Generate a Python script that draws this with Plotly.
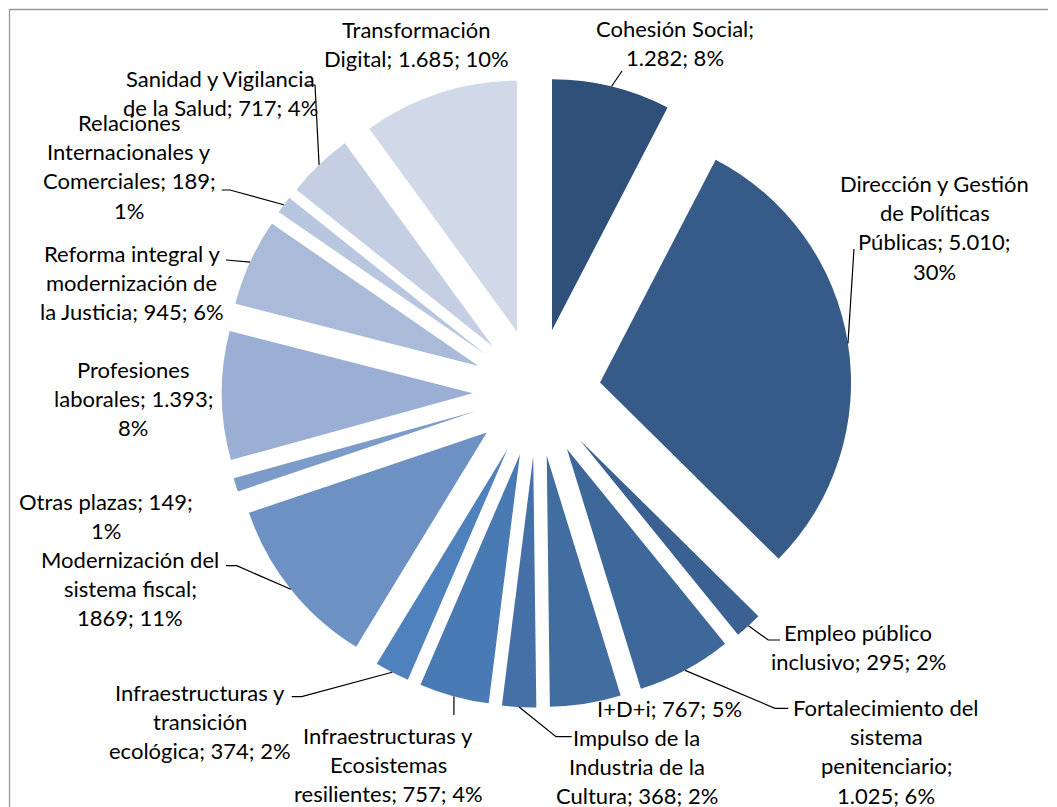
import math
import plotly.graph_objects as go

# ---------------- data ----------------
categories = [
    "Cohesión Social",
    "Dirección y Gestión de Políticas Públicas",
    "Empleo público inclusivo",
    "Fortalecimiento del sistema penitenciario",
    "I+D+i",
    "Impulso de la Industria de la Cultura",
    "Infraestructuras y Ecosistemas resilientes",
    "Infraestructuras y transición ecológica",
    "Modernización del sistema fiscal",
    "Otras plazas",
    "Profesiones laborales",
    "Reforma integral y modernización de la Justicia",
    "Relaciones Internacionales y Comerciales",
    "Sanidad y Vigilancia de la Salud",
    "Transformación Digital",
]
values = [1282, 5010, 295, 1025, 767, 368, 757, 374, 1869, 149, 1393, 945, 189, 717, 1685]
# values printed without a thousands separator in the original labels
no_thousands_sep = ["Modernización del sistema fiscal"]

# ---------------- styles ----------------
colors = [
    "#2f5078", "#375b88", "#3b6192", "#3f689a", "#426da1", "#4571a8",
    "#4a7ab4", "#4f81bd", "#6e91c3", "#7d9bc9", "#9aafd3", "#aabbd9",
    "#b8c6e0", "#c4cfe4", "#d1d9e8",
]
PAGE_OFF = 8                      # the page body margin in the browser
W, H = 1057 - PAGE_OFF, 807 - PAGE_OFF
PIE_CX, PIE_CY, PIE_HALF = 536.8, 392.5, 315.0   # pie box (window pixels)
PULL = 0.255
FONT = dict(family="Lato, Carlito, Calibri, sans-serif", size=22, color="#000000")
LINE_H = 29.2

# label layout: (center x, first line center y, words per line)  [window pixels]
label_layout = [
    (675, 28.5, [2, 2]),
    (934.5, 183.5, [3, 2, 2, 1]),
    (858, 632.5, [2, 3]),
    (886, 707.5, [2, 1, 1, 2]),
    (669, 708, [3]),
    (636.5, 737, [3, 3, 3]),
    (388, 735, [2, 1, 3]),
    (200, 692, [2, 1, 3]),
    (130, 559, [2, 2, 2]),
    (105.5, 501, [3, 1]),
    (133, 369, [1, 2, 1]),
    (131.5, 253, [3, 2, 4]),
    (129, 122.5, [1, 2, 2, 1]),
    (220, 78, [3, 5]),
    (416.5, 29, [1, 3]),
]
# leader line points on the label side (window pixels); the slice end is computed
leaders = [
    [(622, 71)],
    [(854, 249)],
    [(780, 640), (768.3, 640)],
    [(788.3, 708.3), (775, 708.3)],
    None,
    [(571.7, 736.7), (556, 736.7)],
    [(453.9, 715)],
    [(291.7, 696.7), (301.7, 696.7)],
    [(226, 565.7), (236.7, 565.7)],
    None,
    None,
    [(226, 260)],
    [(221.7, 190), (230, 190)],
    [(305, 85), (315, 85)],
    None,
]


def px(x):
    return (x - PAGE_OFF) / W


def py(y):
    return 1 - (y - PAGE_OFF) / H


total = sum(values)


def fmt_value(cat, v):
    if cat in no_thousands_sep:
        return str(v)
    return f"{v:,}".replace(",", ".")


fig = go.Figure(
    go.Pie(
        labels=categories,
        values=values,
        sort=False,
        direction="clockwise",
        rotation=0,
        pull=[PULL] * len(values),
        marker=dict(colors=colors, line=dict(width=0)),
        textinfo="none",
        hoverinfo="label+value+percent",
        domain=dict(
            x=[px(PIE_CX - PIE_HALF), px(PIE_CX + PIE_HALF)],
            y=[py(PIE_CY + PIE_HALF), py(PIE_CY - PIE_HALF)],
        ),
        showlegend=False,
    )
)

annotations = []
shapes = []
cum = 0
for i, (cat, v) in enumerate(zip(categories, values)):
    mid = (cum + v / 2) / total * 2 * math.pi
    cum += v
    pct = round(v / total * 100)
    words = f"{cat}; {fmt_value(cat, v)}; {pct}%".split(" ")
    cx, y0, counts = label_layout[i]
    k = 0
    for j, c in enumerate(counts):
        line = " ".join(words[k:k + c])
        k += c
        annotations.append(dict(
            x=px(cx), y=py(y0 + j * LINE_H), xref="paper", yref="paper",
            text=line, showarrow=False, xanchor="center", yanchor="middle",
            font=FONT,
        ))
    if leaders[i]:
        tip = (PIE_CX + PIE_HALF * math.sin(mid), PIE_CY - PIE_HALF * math.cos(mid))
        pts = leaders[i] + [tip]
        path = "M " + " L ".join(f"{px(a):.5f},{py(b):.5f}" for a, b in pts)
        shapes.append(dict(type="path", path=path, xref="paper", yref="paper",
                           line=dict(color="#000000", width=1.2)))

# chart area frame (top and left edges visible)
shapes.append(dict(type="path", xref="paper", yref="paper",
                   path=f"M {px(9.5)},{py(830)} L {px(9.5)},{py(9.5)} L {px(1048)},{py(9.5)}",
                   line=dict(color="#9a9a9a", width=1.3)))

fig.update_layout(
    width=W, height=H,
    margin=dict(l=0, r=0, t=0, b=0),
    paper_bgcolor="#ffffff",
    plot_bgcolor="#ffffff",
    annotations=annotations,
    shapes=shapes,
    showlegend=False,
)

fig.write_html("out.html")
